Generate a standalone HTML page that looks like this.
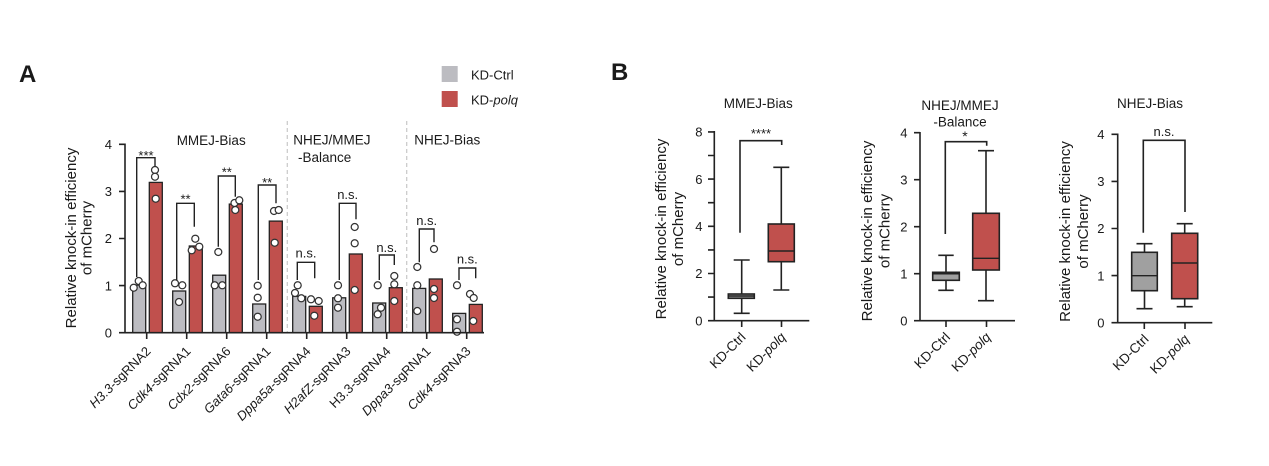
<!DOCTYPE html>
<html><head><meta charset="utf-8"><style>
html,body{margin:0;padding:0;background:#fff;}
svg{display:block;}
text{font-family:"Liberation Sans",Arial,sans-serif;fill:#1a1a1a;}
</style></head><body>
<svg width="1269" height="466" viewBox="0 0 1269 466" xmlns="http://www.w3.org/2000/svg">
<rect width="1269" height="466" fill="#fff"/>
<!-- Panel letters -->
<text x="19" y="82" font-size="24" font-weight="bold">A</text>
<text x="611" y="80" font-size="24" font-weight="bold">B</text>

<!-- Legend -->
<rect x="441.7" y="66" width="16" height="16" fill="#bcbcc1"/>
<rect x="441.7" y="91" width="16" height="16" fill="#c0504d"/>
<text x="471" y="79.5" font-size="13">KD-Ctrl</text>
<text x="471" y="104.5" font-size="13">KD-<tspan font-style="italic">polq</tspan></text>

<!-- Panel A -->
<g>
<line x1="287.3" y1="121" x2="287.3" y2="333" stroke="#c8c8c8" stroke-width="1.2" stroke-dasharray="4,3"/>
<line x1="406.7" y1="121" x2="406.7" y2="333" stroke="#c8c8c8" stroke-width="1.2" stroke-dasharray="4,3"/>
<text x="176.7" y="145" font-size="13.5">MMEJ-Bias</text>
<text x="293.3" y="144.5" font-size="13.5">NHEJ/MMEJ</text>
<text x="298" y="162" font-size="13.5">-Balance</text>
<text x="414.3" y="144.5" font-size="13.5">NHEJ-Bias</text>

<!-- bars -->
<g stroke="#222" stroke-width="1.3">
<rect x="132.7" y="285.1" width="13" height="47.6" fill="#bcbcc1"/>
<rect x="149.3" y="182.4" width="13" height="150.3" fill="#c0504d"/>
<rect x="172.7" y="291.0" width="13" height="41.7" fill="#bcbcc1"/>
<rect x="189.3" y="246.0" width="13" height="86.7" fill="#c0504d"/>
<rect x="212.7" y="275.2" width="13" height="57.5" fill="#bcbcc1"/>
<rect x="229.3" y="204.1" width="13" height="128.6" fill="#c0504d"/>
<rect x="252.7" y="304.0" width="13" height="28.7" fill="#bcbcc1"/>
<rect x="269.3" y="221.1" width="13" height="111.6" fill="#c0504d"/>
<rect x="292.7" y="296.4" width="13" height="36.3" fill="#bcbcc1"/>
<rect x="309.3" y="306.3" width="13" height="26.4" fill="#c0504d"/>
<rect x="332.7" y="297.8" width="13" height="34.9" fill="#bcbcc1"/>
<rect x="349.3" y="254.0" width="13" height="78.7" fill="#c0504d"/>
<rect x="372.7" y="303.0" width="13" height="29.7" fill="#bcbcc1"/>
<rect x="389.3" y="287.7" width="13" height="45.0" fill="#c0504d"/>
<rect x="412.7" y="288.4" width="13" height="44.3" fill="#bcbcc1"/>
<rect x="429.3" y="279.0" width="13" height="53.7" fill="#c0504d"/>
<rect x="452.7" y="313.4" width="13" height="19.3" fill="#bcbcc1"/>
<rect x="469.3" y="304.4" width="13" height="28.3" fill="#c0504d"/>
</g>

<!-- dots -->
<g fill="#fff" stroke="#333" stroke-width="1.25">
<circle cx="133.7" cy="287.7" r="3.5"/><circle cx="138.7" cy="281" r="3.5"/><circle cx="142.7" cy="285.3" r="3.5"/>
<circle cx="155" cy="170" r="3.5"/><circle cx="155" cy="176.7" r="3.5"/><circle cx="155.7" cy="198.7" r="3.5"/>
<circle cx="175" cy="283.3" r="3.5"/><circle cx="182.3" cy="285.3" r="3.5"/><circle cx="179" cy="302" r="3.5"/>
<circle cx="195.3" cy="238.7" r="3.5"/><circle cx="191.7" cy="250.3" r="3.5"/><circle cx="199.3" cy="246.7" r="3.5"/>
<circle cx="218.3" cy="252" r="3.5"/><circle cx="214.7" cy="285.3" r="3.5"/><circle cx="222.3" cy="285.3" r="3.5"/>
<circle cx="235.3" cy="210" r="3.5"/><circle cx="234.5" cy="203" r="3.5"/><circle cx="239.3" cy="200.3" r="3.5"/>
<circle cx="257.7" cy="285.7" r="3.5"/><circle cx="257.7" cy="297.7" r="3.5"/><circle cx="257.7" cy="316.7" r="3.5"/>
<circle cx="274" cy="211" r="3.5"/><circle cx="278.7" cy="210" r="3.5"/><circle cx="274.7" cy="242.7" r="3.5"/>
<circle cx="297.7" cy="285.3" r="3.5"/><circle cx="295" cy="293" r="3.5"/><circle cx="301.3" cy="298.3" r="3.5"/>
<circle cx="311" cy="299.3" r="3.5"/><circle cx="318.7" cy="301" r="3.5"/><circle cx="314.3" cy="315.7" r="3.5"/>
<circle cx="338" cy="285.3" r="3.5"/><circle cx="338" cy="298.3" r="3.5"/><circle cx="338" cy="307.7" r="3.5"/>
<circle cx="354.7" cy="227" r="3.5"/><circle cx="354.7" cy="243.3" r="3.5"/><circle cx="354.7" cy="290" r="3.5"/>
<circle cx="377.7" cy="285.3" r="3.5"/><circle cx="381" cy="307.7" r="3.5"/><circle cx="377.7" cy="314.3" r="3.5"/>
<circle cx="394.3" cy="276" r="3.5"/><circle cx="394.3" cy="284.3" r="3.5"/><circle cx="394.3" cy="301" r="3.5"/>
<circle cx="417.3" cy="267" r="3.5"/><circle cx="417.3" cy="285.3" r="3.5"/><circle cx="417.3" cy="311" r="3.5"/>
<circle cx="434" cy="249" r="3.5"/><circle cx="434" cy="289" r="3.5"/><circle cx="434" cy="298" r="3.5"/>
<circle cx="457" cy="285.3" r="3.5"/><circle cx="457" cy="319.3" r="3.5"/><circle cx="457" cy="331.7" r="3.5"/>
<circle cx="470" cy="294" r="3.5"/><circle cx="473.7" cy="298" r="3.5"/><circle cx="473.3" cy="321" r="3.5"/>
</g>

<!-- brackets -->
<g fill="none" stroke="#222" stroke-width="1.4">
<path d="M136.7,277 V157.7 H155 V166.7"/>
<path d="M176.7,280 V203.3 H194.3 V226.7"/>
<path d="M218.3,246.7 V176 H235.3 V196.7"/>
<path d="M258.3,280 V185 H276 V203.3"/>
<path d="M297.3,280 V262.3 H314.7 V278.3"/>
<path d="M339.3,280 V203.3 H356 V219.3"/>
<path d="M379.3,280 V255 H394.3 V265"/>
<path d="M419.3,262.3 V229 H434 V242.3"/>
<path d="M459,280 V268 H475.7 V278.3"/>
</g>
<g font-size="13" text-anchor="middle">
<text x="146" y="160">***</text>
<text x="185.5" y="203.5">**</text>
<text x="226.8" y="176.5">**</text>
<text x="267.2" y="187">**</text>
<text x="306" y="257.5">n.s.</text>
<text x="347.7" y="199">n.s.</text>
<text x="386.8" y="252">n.s.</text>
<text x="426.7" y="225">n.s.</text>
<text x="467.3" y="263.5">n.s.</text>
</g>

<!-- axes A -->
<g stroke="#222" stroke-width="1.6" fill="none">
<path d="M125,143.5 V332.7 H484"/>
<path d="M119,332.7 H125 M119,285.6 H125 M119,238.5 H125 M119,191.4 H125 M119,144.3 H125"/>
<path d="M146.7,332.7 V339 M186.7,332.7 V339 M226.7,332.7 V339 M266.7,332.7 V339 M306.7,332.7 V339 M346.7,332.7 V339 M386.7,332.7 V339 M426.7,332.7 V339 M466.7,332.7 V339"/>
</g>
<g font-size="13" text-anchor="end">
<text x="112" y="337.4">0</text>
<text x="112" y="290.3">1</text>
<text x="112" y="243.2">2</text>
<text x="112" y="196.1">3</text>
<text x="112" y="149">4</text>
</g>
<g font-size="15" text-anchor="middle">
<text transform="translate(76,238) rotate(-90)">Relative knock-in efficiency</text>
<text transform="translate(91.5,238) rotate(-90)">of  mCherry</text>
</g>
<g font-size="13" text-anchor="end">
<text transform="translate(151.5,352) rotate(-45)"><tspan font-style="italic">H3.3</tspan>-sgRNA2</text>
<text transform="translate(191.5,352) rotate(-45)"><tspan font-style="italic">Cdk4</tspan>-sgRNA1</text>
<text transform="translate(231.5,352) rotate(-45)"><tspan font-style="italic">Cdx2</tspan>-sgRNA6</text>
<text transform="translate(271.5,352) rotate(-45)"><tspan font-style="italic">Gata6</tspan>-sgRNA1</text>
<text transform="translate(311.5,352) rotate(-45)"><tspan font-style="italic">Dppa5a</tspan>-sgRNA4</text>
<text transform="translate(351.5,352) rotate(-45)"><tspan font-style="italic">H2afZ</tspan>-sgRNA3</text>
<text transform="translate(391.5,352) rotate(-45)">H3.3-sgRNA4</text>
<text transform="translate(431.5,352) rotate(-45)"><tspan font-style="italic">Dppa3</tspan>-sgRNA1</text>
<text transform="translate(471.5,352) rotate(-45)"><tspan font-style="italic">Cdk4</tspan>-sgRNA3</text>
</g>
</g>

<!-- Panel B1 -->
<g>
<text x="758.3" y="108" font-size="13.5" text-anchor="middle">MMEJ-Bias</text>
<g stroke="#222" stroke-width="1.6" fill="none">
<path d="M714.3,131 V320.7 H809.3"/>
<path d="M708,320.7 H714.3 M708,297.1 H714.3 M708,273.5 H714.3 M708,249.9 H714.3 M708,226.3 H714.3 M708,202.7 H714.3 M708,179.1 H714.3 M708,155.5 H714.3 M708,131.9 H714.3"/>
<path d="M741.7,320.7 V327 M781.5,320.7 V327"/>
</g>
<g font-size="13" text-anchor="end">
<text x="702.5" y="325.4">0</text>
<text x="702.5" y="278.2">2</text>
<text x="702.5" y="231">4</text>
<text x="702.5" y="183.8">6</text>
<text x="702.5" y="136.6">8</text>
</g>
<g stroke="#222" stroke-width="1.6" fill="none">
<path d="M741.7,260 V294 M741.7,298.3 V313.3 M733.7,260 H749.7 M733.7,313.3 H749.7"/>
<path d="M781.3,167.3 V224 M781.3,261.7 V290 M773.3,167.3 H789.3 M773.3,290 H789.3"/>
<path d="M740,232.7 V140.7 H781.7 V145"/>
</g>
<rect x="728.3" y="294" width="26" height="4.3" fill="#a0a0a0" stroke="#222" stroke-width="1.6"/>
<line x1="728.3" y1="296" x2="754.3" y2="296" stroke="#222" stroke-width="1.4"/>
<rect x="768.3" y="224" width="26" height="37.7" fill="#c0504d" stroke="#222" stroke-width="1.6"/>
<line x1="768.3" y1="251" x2="794.3" y2="251" stroke="#222" stroke-width="1.4"/>
<text x="761" y="138" font-size="13" text-anchor="middle">****</text>
<g font-size="15" text-anchor="middle">
<text transform="translate(666,229) rotate(-90)">Relative knock-in efficiency</text>
<text transform="translate(683,229) rotate(-90)">of  mCherry</text>
</g>
<g font-size="13.5" text-anchor="end">
<text transform="translate(746.5,338) rotate(-45)">KD-Ctrl</text>
<text transform="translate(786.5,338) rotate(-45)">KD-<tspan font-style="italic">polq</tspan></text>
</g>
</g>

<!-- Panel B2 -->
<g>
<text x="960" y="110" font-size="13.5" text-anchor="middle">NHEJ/MMEJ</text>
<text x="960" y="126.5" font-size="13.5" text-anchor="middle">-Balance</text>
<g stroke="#222" stroke-width="1.6" fill="none">
<path d="M920,132 V320.7 H1015"/>
<path d="M914,320.7 H920 M914,273.7 H920 M914,226.7 H920 M914,179.7 H920 M914,132.7 H920"/>
<path d="M946,320.7 V327 M986.5,320.7 V327"/>
</g>
<g font-size="13" text-anchor="end">
<text x="907.5" y="325.4">0</text>
<text x="907.5" y="278.4">1</text>
<text x="907.5" y="231.4">2</text>
<text x="907.5" y="184.4">3</text>
<text x="907.5" y="137.4">4</text>
</g>
<g stroke="#222" stroke-width="1.6" fill="none">
<path d="M946,255.3 V272.3 M946,280.3 V290.3 M938.3,255.3 H953.7 M938.3,290.3 H953.7"/>
<path d="M986,150.7 V213.3 M986,270 V300.7 M978,150.7 H994 M978,300.7 H994"/>
<path d="M945.3,234 V141.7 H986.7 V145.7"/>
</g>
<rect x="932.7" y="272.3" width="26.6" height="8" fill="#a0a0a0" stroke="#222" stroke-width="1.6"/>
<line x1="932.7" y1="273.5" x2="959.3" y2="273.5" stroke="#222" stroke-width="2"/>
<rect x="972.7" y="213.3" width="26.6" height="56.7" fill="#c0504d" stroke="#222" stroke-width="1.6"/>
<line x1="972.7" y1="258.3" x2="999.3" y2="258.3" stroke="#222" stroke-width="1.4"/>
<text x="965" y="141" font-size="14" text-anchor="middle">*</text>
<g font-size="15" text-anchor="middle">
<text transform="translate(872,231) rotate(-90)">Relative knock-in efficiency</text>
<text transform="translate(889.5,231) rotate(-90)">of  mCherry</text>
</g>
<g font-size="13.5" text-anchor="end">
<text transform="translate(951,338) rotate(-45)">KD-Ctrl</text>
<text transform="translate(991.5,338) rotate(-45)">KD-<tspan font-style="italic">polq</tspan></text>
</g>
</g>

<!-- Panel B3 -->
<g>
<text x="1150" y="108" font-size="13.5" text-anchor="middle">NHEJ-Bias</text>
<g stroke="#222" stroke-width="1.6" fill="none">
<path d="M1117.7,133.5 V322.7 H1212.3"/>
<path d="M1111.5,322.7 H1117.7 M1111.5,275.6 H1117.7 M1111.5,228.5 H1117.7 M1111.5,181.4 H1117.7 M1111.5,134.3 H1117.7"/>
<path d="M1144.3,322.7 V329 M1185,322.7 V329"/>
</g>
<g font-size="13" text-anchor="end">
<text x="1104.5" y="327.4">0</text>
<text x="1104.5" y="280.3">1</text>
<text x="1104.5" y="233.2">2</text>
<text x="1104.5" y="186.1">3</text>
<text x="1104.5" y="139">4</text>
</g>
<g stroke="#222" stroke-width="1.6" fill="none">
<path d="M1144.5,243.7 V252.3 M1144.5,290.7 V308.7 M1136.5,243.7 H1152.5 M1136.5,308.7 H1152.5"/>
<path d="M1184.7,223.7 V233.3 M1184.7,298.7 V306.7 M1176.7,223.7 H1192.7 M1176.7,306.7 H1192.7"/>
<path d="M1143.3,232.7 V140.3 H1185 V212"/>
</g>
<rect x="1131.7" y="252.3" width="25.6" height="38.4" fill="#a0a0a0" stroke="#222" stroke-width="1.6"/>
<line x1="1131.7" y1="275.7" x2="1157.3" y2="275.7" stroke="#222" stroke-width="1.4"/>
<rect x="1171.7" y="233.3" width="26" height="65.4" fill="#c0504d" stroke="#222" stroke-width="1.6"/>
<line x1="1171.7" y1="263" x2="1197.7" y2="263" stroke="#222" stroke-width="1.4"/>
<text x="1164" y="136" font-size="13" text-anchor="middle">n.s.</text>
<g font-size="15" text-anchor="middle">
<text transform="translate(1070,231.5) rotate(-90)">Relative knock-in efficiency</text>
<text transform="translate(1088,231.5) rotate(-90)">of  mCherry</text>
</g>
<g font-size="13.5" text-anchor="end">
<text transform="translate(1149.5,340) rotate(-45)">KD-Ctrl</text>
<text transform="translate(1190,340) rotate(-45)">KD-<tspan font-style="italic">polq</tspan></text>
</g>
</g>
</svg>
</body></html>
